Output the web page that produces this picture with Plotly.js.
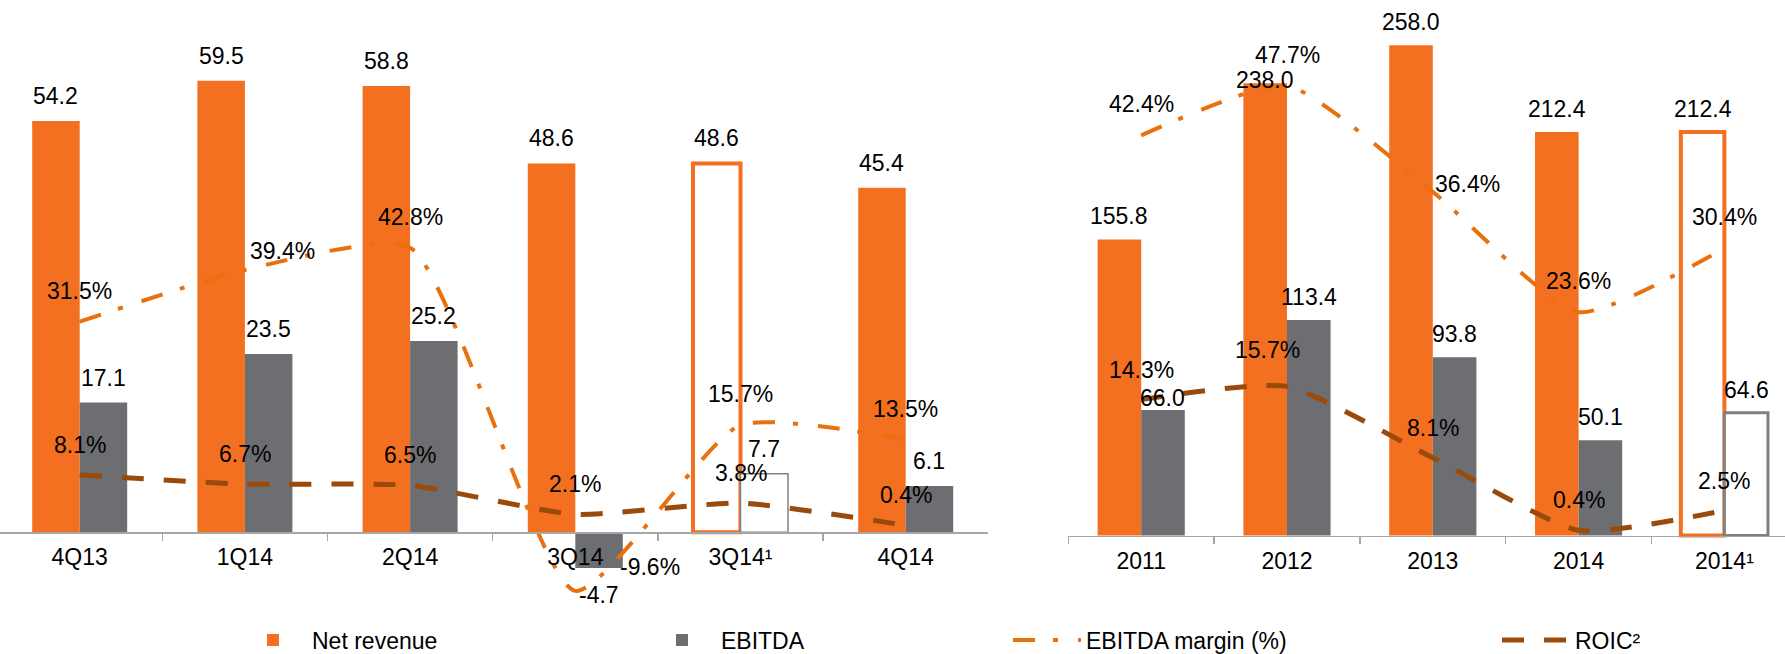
<!DOCTYPE html>
<html>
<head>
<meta charset="utf-8">
<script src="https://cdn.plot.ly/plotly-3.0.1.min.js"></script>
<style>html,body{margin:0;padding:0;background:#fff;}#chart{width:1785px;height:654px;}</style>
</head>
<body>
<div id="chart"></div>
<script>
// ---------- data ----------
const quarters = ['4Q13', '1Q14', '2Q14', '3Q14', '3Q14\u00B9', '4Q14'];
const qRevenue = [54.2, 59.5, 58.8, 48.6, 48.6, 45.4];
const qEbitda  = [17.1, 23.5, 25.2, -4.7, 7.7, 6.1];
const qMargin  = [31.5, 39.4, 42.8, -9.6, 15.7, 13.5];
const qRoic    = [8.1, 6.7, 6.5, 2.1, 3.8, 0.4];

const years    = ['2011', '2012', '2013', '2014', '2014\u00B9'];
const yRevenue = [155.8, 238.0, 258.0, 212.4, 212.4];
const yEbitda  = [66.0, 113.4, 93.8, 50.1, 64.6];
const yMargin  = [42.4, 47.7, 36.4, 23.6, 30.4];
const yRoic    = [14.3, 15.7, 8.1, 0.4, 2.5];

const legendNames = ['Net revenue', 'EBITDA', 'EBITDA margin (%)', 'ROIC\u00B2'];

// ---------- styling / geometry ----------
const W = 1785, H = 654;
const ORANGE = '#F37021', GRAY = '#6D6E71', MARGIN_C = '#E8710E', ROIC_C = '#9A4A0A', AXIS_C = '#A6A6A6';
const FONT = 'Liberation Sans, Arial, Helvetica, sans-serif';
const FS = 23;

// left panel pixel geometry
const LG = {x0: -2.9, x1: 988.3, n: 6, base: 532.3, ppu: 7.59, pzero: 528, ppp: 6.55, bw: 0.2875};
LG.step = (LG.x1 - LG.x0) / LG.n;
// right panel pixel geometry
const RG = {x0: 1068.3, step: 145.8, n: 5, base: 535.5, ppu: 1.90, pzero: 534, ppp: 9.4, bw: 0.299};

const hollowQ = quarters.map(c => c.indexOf('\u00B9') >= 0);
const hollowY = years.map(c => c.indexOf('\u00B9') >= 0);

function barStyle(hollow, fill, lineColor, lw) {
  return {
    color: hollow.map(h => h ? '#FFFFFF' : fill),
    line: {color: hollow.map(h => h ? lineColor : fill), width: hollow.map(h => h ? lw : 0)}
  };
}

const SMOOTH = 0.55;
const marginLine = {color: MARGIN_C, width: 4, dash: '22px,18px,5px,20px', shape: 'spline', smoothing: SMOOTH};
const roicLine = {color: ROIC_C, width: 5, dash: '22px,20px', shape: 'spline', smoothing: SMOOTH};

const traces = [
  {type: 'bar', x: quarters, y: qRevenue, xaxis: 'x', yaxis: 'y', name: legendNames[0],
   offset: -LG.bw, width: LG.bw, marker: barStyle(hollowQ, ORANGE, ORANGE, 4),
   legend: 'legend', showlegend: true, hoverinfo: 'skip'},
  {type: 'bar', x: quarters, y: qEbitda, xaxis: 'x', yaxis: 'y', name: legendNames[1],
   offset: 0, width: LG.bw, marker: barStyle(hollowQ, GRAY, '#808080', 1.5),
   legend: 'legend2', showlegend: true, hoverinfo: 'skip'},
  {type: 'bar', x: years, y: yRevenue, xaxis: 'x2', yaxis: 'y2', name: legendNames[0],
   offset: -RG.bw, width: RG.bw, marker: barStyle(hollowY, ORANGE, ORANGE, 4),
   showlegend: false, hoverinfo: 'skip'},
  {type: 'bar', x: years, y: yEbitda, xaxis: 'x2', yaxis: 'y2', name: legendNames[1],
   offset: 0, width: RG.bw, marker: barStyle(hollowY, GRAY, '#808080', 3),
   showlegend: false, hoverinfo: 'skip'},
  {type: 'scatter', mode: 'lines', x: quarters, y: qMargin, xaxis: 'x', yaxis: 'y3', name: legendNames[2],
   line: marginLine, legend: 'legend3', showlegend: true, hoverinfo: 'skip'},
  {type: 'scatter', mode: 'lines', x: quarters, y: qRoic, xaxis: 'x', yaxis: 'y3', name: legendNames[3],
   line: roicLine, legend: 'legend4', showlegend: true, hoverinfo: 'skip'},
  {type: 'scatter', mode: 'lines', x: years, y: yMargin, xaxis: 'x2', yaxis: 'y4', name: legendNames[2],
   line: marginLine, showlegend: false, hoverinfo: 'skip'},
  {type: 'scatter', mode: 'lines', x: years, y: yRoic, xaxis: 'x2', yaxis: 'y4', name: legendNames[3],
   line: roicLine, showlegend: false, hoverinfo: 'skip'}
];

// ---------- labels ----------
const lblFont = {family: FONT, size: FS, color: '#000000'};
// manual nudges (pixels) for labels that were moved in the original
const nudges = {
  'yRev:2012': {dy: 3}, 'yEb:2011': {dy: 12},
  'qMar:1Q14': {dx: 38, dy: 19}, 'qMar:3Q14': {dx: 75, dy: 24},
  'yMar:2013': {dx: 35, dy: 8}, 'yRoic:2012': {dx: -20, dy: 36}
};
const annotations = [];
function addLabels(key, cats, vals, xref, yref, xshift, up, suffix) {
  cats.forEach((c, i) => {
    const v = vals[i];
    const n = nudges[key + ':' + c] || {};
    let dy = (n.dy !== undefined) ? n.dy : (v < 0 && !suffix ? -(up + 2) : up);
    annotations.push({
      x: i, y: v, xref: xref, yref: yref, text: v.toFixed(1) + (suffix || ''),
      showarrow: false, xanchor: 'center', yanchor: 'middle',
      xshift: xshift + (n.dx || 0), yshift: dy, font: lblFont
    });
  });
}
const lHalf = LG.bw * LG.step / 2, rHalf = RG.bw * RG.step / 2;
addLabels('qRev', quarters, qRevenue, 'x', 'y', -lHalf, 25);
addLabels('qEb', quarters, qEbitda, 'x', 'y', lHalf, 25);
addLabels('yRev', years, yRevenue, 'x2', 'y2', -rHalf, 23);
addLabels('yEb', years, yEbitda, 'x2', 'y2', rHalf, 23);
addLabels('qMar', quarters, qMargin, 'x', 'y3', 0, 31, '%');
addLabels('qRoic', quarters, qRoic, 'x', 'y3', 0, 30, '%');
addLabels('yMar', years, yMargin, 'x2', 'y4', 0, 31, '%');
addLabels('yRoic', years, yRoic, 'x2', 'y4', 0, 30, '%');

// ---------- axes ----------
function xAxis(domain, range, base) {
  return {
    type: 'category', domain: domain, range: range, anchor: 'free', position: (H - base) / H,
    showline: true, linecolor: AXIS_C, linewidth: 1.5,
    ticks: 'outside', tickson: 'boundaries', ticklen: 7, tickwidth: 1.5, tickcolor: AXIS_C,
    showgrid: false, zeroline: false, fixedrange: true,
    tickfont: {family: FONT, size: FS, color: '#000000'}, ticklabelstandoff: 4
  };
}
function yRange(base, ppu) { return [-(H - base) / ppu, base / ppu]; }
const hiddenY = {visible: false, showgrid: false, zeroline: false, fixedrange: true, domain: [0, 1]};

const ITEM_W = 68;
const legendBase = {orientation: 'h', yanchor: 'middle', xanchor: 'left', y: (H - 640) / H,
  itemwidth: ITEM_W, bgcolor: 'rgba(0,0,0,0)', font: {family: FONT, size: FS, color: '#000000'}, itemclick: false};
const legTextX = [314, 723, 1088, 1577];
const legOff = ITEM_W + 12;

const layout = {
  width: W, height: H, margin: {l: 0, r: 0, t: 0, b: 0, autoexpand: false},
  paper_bgcolor: '#FFFFFF', plot_bgcolor: 'rgba(0,0,0,0)',
  font: {family: FONT, size: FS, color: '#000000'},
  barmode: 'overlay', showlegend: true,
  xaxis: xAxis([0, LG.x1 / W], [-0.5 + (0 - LG.x0) / LG.step, LG.n - 0.5], LG.base),
  xaxis2: xAxis([RG.x0 / W, 1], [-0.5, -0.5 + (W - RG.x0) / RG.step], RG.base),
  yaxis: Object.assign({}, hiddenY, {anchor: 'x', range: yRange(LG.base, LG.ppu)}),
  yaxis2: Object.assign({}, hiddenY, {anchor: 'x2', range: yRange(RG.base, RG.ppu)}),
  yaxis3: Object.assign({}, hiddenY, {anchor: 'x', overlaying: 'y', side: 'right', range: yRange(LG.pzero, LG.ppp)}),
  yaxis4: Object.assign({}, hiddenY, {anchor: 'x2', overlaying: 'y2', side: 'right', range: yRange(RG.pzero, RG.ppp)}),
  legend: Object.assign({}, legendBase, {x: (legTextX[0] - legOff) / W}),
  legend2: Object.assign({}, legendBase, {x: (legTextX[1] - legOff) / W}),
  legend3: Object.assign({}, legendBase, {x: (legTextX[2] - legOff) / W}),
  legend4: Object.assign({}, legendBase, {x: (legTextX[3] - legOff) / W}),
  annotations: annotations
};

Plotly.newPlot('chart', traces, layout, {staticPlot: true, displayModeBar: false});
</script>
</body>
</html>
